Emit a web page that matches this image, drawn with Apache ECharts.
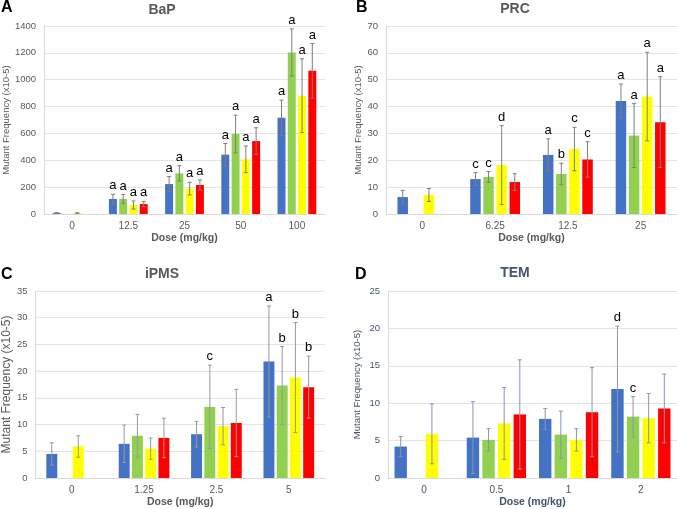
<!DOCTYPE html>
<html>
<head>
<meta charset="utf-8">
<script src="https://cdn.jsdelivr.net/npm/echarts@6/dist/echarts.min.js"></script>
<style>html,body{margin:0;padding:0;background:#fff}#c{width:677px;height:509px}</style>
</head>
<body>
<div id="c"></div>
<script>
// ---- Data ----
const catsA = ['0', '12.5', '25', '50', '100'];
const blueA = [8, 112, 223, 442, 717];
const blueErrA = [2, 35, 56, 83, 131];
const greenA = [null, 112, 303, 596, 1203];
const greenErrA = [null, 33, 57, 140, 175];
const yellowA = [7, 67, 189, 407, 881];
const yellowErrA = [2, 30, 47, 99, 275];
const redA = [null, 74, 216, 543, 1067];
const redErrA = [null, 20, 38, 99, 203];
const blueLblA = ['', 'a', 'a', 'a', 'a'];
const greenLblA = ['', 'a', 'a', 'a', 'a'];
const yellowLblA = ['', 'a', 'a', 'a', 'a'];
const redLblA = ['', 'a', 'a', 'a', 'a'];

const catsB = ['0', '6.25', '12.5', '25'];
const blueB = [6.3, 13.0, 22.0, 42.1];
const blueErrB = [2.5, 2.4, 6.0, 6.3];
const greenB = [null, 13.8, 14.9, 29.2];
const greenErrB = [null, 2.0, 4.0, 11.9];
const yellowB = [7.1, 18.2, 24.2, 43.7];
const yellowErrB = [2.4, 14.7, 8.1, 16.5];
const redB = [null, 11.9, 20.3, 34.2];
const redErrB = [null, 3.1, 6.6, 16.9];
const blueLblB = ['', 'c', 'a', 'a'];
const greenLblB = ['', 'c', 'b', 'a'];
const yellowLblB = ['', 'd', 'c', 'a'];
const redLblB = ['', '', 'c', 'a'];

const catsC = ['0', '1.25', '2.5', '5'];
const blueC = [4.5, 6.4, 8.2, 21.8];
const blueErrC = [2.1, 3.5, 2.4, 10.4];
const greenC = [null, 7.9, 13.3, 17.3];
const greenErrC = [null, 4.0, 7.8, 7.3];
const yellowC = [5.9, 5.5, 9.7, 18.8];
const yellowErrC = [2.0, 2.0, 3.5, 10.3];
const redC = [null, 7.5, 10.3, 17.0];
const redErrC = [null, 3.7, 6.3, 5.8];
const blueLblC = ['', '', '', 'a'];
const greenLblC = ['', '', 'c', 'b'];
const yellowLblC = ['', '', '', 'b'];
const redLblC = ['', '', '', 'b'];

const catsD = ['0', '0.5', '1', '2'];
const blueD = [4.2, 5.4, 7.9, 11.9];
const blueErrD = [1.35, 4.8, 1.4, 8.4];
const greenD = [null, 5.1, 5.8, 8.2];
const greenErrD = [null, 1.5, 3.15, 2.7];
const yellowD = [5.9, 7.3, 5.1, 8.0];
const yellowErrD = [4.0, 4.8, 1.5, 3.3];
const redD = [null, 8.5, 8.8, 9.3];
const redErrD = [null, 7.3, 5.95, 4.6];
const blueLblD = ['', '', '', 'd'];
const greenLblD = ['', '', '', 'c'];
const yellowLblD = ['', '', '', ''];
const redLblD = ['', '', '', ''];

const yTicksA = {max: 1400, interval: 200};
const yTicksB = {max: 70, interval: 10};
const yTicksC = {max: 35, interval: 5};
const yTicksD = {max: 25, interval: 5};

// ---- Styling / layout ----
const COLORS = ['#4472C4', '#92D050', '#FFFF00', '#FF0000'];
const FONT = 'Arial, "Liberation Sans", sans-serif';

const panels = [
  {letter: 'A', title: 'BaP', cats: catsA, ticks: yTicksA,
   vals: [blueA, greenA, yellowA, redA], errs: [blueErrA, greenErrA, yellowErrA, redErrA],
   lbls: [blueLblA, greenLblA, yellowLblA, redLblA],
   grid: {left: 43, top: 26, width: 282, height: 188}, cg: 0.31, bg: 0.29,
   txt: '#595959', err: '#7f7f7f', nameSize: 9.5, nameGap: 29, titleX: 162, titleY: 10, letterX: 1, letterY: 0},
  {letter: 'B', title: 'PRC', cats: catsB, ticks: yTicksB,
   vals: [blueB, greenB, yellowB, redB], errs: [blueErrB, greenErrB, yellowErrB, redErrB],
   lbls: [blueLblB, greenLblB, yellowLblB, redLblB],
   grid: {left: 386, top: 26, width: 291, height: 188}, cg: 0.315, bg: 0.25,
   txt: '#595959', err: '#7f7f7f', nameSize: 9.5, nameGap: 23, titleX: 515, titleY: 9, letterX: 356, letterY: 0},
  {letter: 'C', title: 'iPMS', cats: catsC, ticks: yTicksC,
   vals: [blueC, greenC, yellowC, redC], errs: [blueErrC, greenErrC, yellowErrC, redErrC],
   lbls: [blueLblC, greenLblC, yellowLblC, redLblC],
   grid: {left: 33, top: 291, width: 292, height: 189}, cg: 0.30, bg: 0.21,
   txt: '#595959', err: '#999999', nameSize: 12, nameGap: 21, titleX: 162, titleY: 274, letterX: 1, letterY: 267},
  {letter: 'D', title: 'TEM', cats: catsD, ticks: yTicksD,
   vals: [blueD, greenD, yellowD, redD], errs: [blueErrD, greenErrD, yellowErrD, redErrD],
   lbls: [blueLblD, greenLblD, yellowLblD, redLblD],
   grid: {left: 388, top: 291, width: 289, height: 187}, cg: 0.18, bg: 0.26,
   txt: '#44546A', err: '#8497B0', nameSize: 9.5, nameGap: 26, titleX: 515, titleY: 273, letterX: 355, letterY: 267}
];

const grids = [], xAxes = [], yAxes = [], series = [], graphics = [];

panels.forEach((p, gi) => {
  grids.push(p.grid);
  xAxes.push({
    type: 'category', gridIndex: gi, data: p.cats,
    name: 'Dose (mg/kg)', nameLocation: 'middle', nameGap: 19,
    nameTextStyle: {fontFamily: FONT, fontWeight: 'bold', fontSize: 10.5, color: p.txt},
    axisLine: {show: true, lineStyle: {color: '#d9d9d9', width: 1}},
    axisTick: {show: false},
    axisLabel: {fontFamily: FONT, fontSize: 10, color: p.txt, margin: 7}
  });
  yAxes.push({
    type: 'value', gridIndex: gi, min: 0, max: p.ticks.max, interval: p.ticks.interval,
    name: 'Mutant Frequency (x10-5)', nameLocation: 'middle', nameRotate: 90, nameGap: p.nameGap,
    nameTextStyle: {fontFamily: FONT, fontSize: p.nameSize, color: p.txt},
    axisLine: {show: true, lineStyle: {color: '#d9d9d9', width: 1}},
    axisTick: {show: false},
    splitLine: {show: true, lineStyle: {color: '#e4e4e4', width: 1}},
    axisLabel: {fontFamily: FONT, fontSize: 9.5, color: p.txt, margin: 8, formatter: v => String(v)}
  });
  const n = 4;
  for (let i = 0; i < n; i++) {
    series.push({
      type: 'bar', xAxisIndex: gi, yAxisIndex: gi,
      data: p.vals[i].map(v => v == null ? '-' : v),
      itemStyle: {color: COLORS[i]},
      barCategoryGap: (p.cg * 100) + '%', barGap: (p.bg * 100) + '%',
      silent: true, animation: false
    });
  }
  for (let i = 0; i < n; i++) {
    const data = p.vals[i].map((v, k) => [k, v == null ? NaN : v, p.errs[i][k] == null ? NaN : p.errs[i][k], p.lbls[i][k]]);
    series.push({
      type: 'custom', xAxisIndex: gi, yAxisIndex: gi, z: 5, animation: false, silent: true,
      data: data,
      encode: {x: 0, y: 1},
      renderItem: (params, api) => {
        const idx = params.dataIndex;
        const d = data[idx];
        if (isNaN(d[1])) return null;
        const band = api.size([1, 0])[0];
        const groupW = band * (1 - p.cg);
        const w = groupW / (n + (n - 1) * p.bg);
        const off = -groupW / 2 + w / 2 + i * w * (1 + p.bg);
        const top = api.coord([d[0], d[1] + d[2]]);
        const bot = api.coord([d[0], Math.max(0, d[1] - d[2])]);
        const x = top[0] + off;
        const cap = 2;
        const ls = {stroke: p.err, lineWidth: 1};
        const children = [
          {type: 'line', shape: {x1: x, y1: top[1], x2: x, y2: bot[1]}, style: ls},
          {type: 'line', shape: {x1: x - cap, y1: top[1], x2: x + cap, y2: top[1]}, style: ls},
          {type: 'line', shape: {x1: x - cap, y1: bot[1], x2: x + cap, y2: bot[1]}, style: ls}
        ];
        if (d[3]) {
          children.push({type: 'text', style: {text: d[3], x: x, y: top[1] - 2, textAlign: 'center', textVerticalAlign: 'bottom',
            fill: '#000', font: '13px ' + FONT}});
        }
        return {type: 'group', children};
      }
    });
  }
  graphics.push({type: 'text', left: p.letterX, top: p.letterY,
    style: {text: p.letter, fill: '#000', font: 'bold 16px ' + FONT}});
  graphics.push({type: 'text', x: p.titleX, y: p.titleY,
    style: {text: p.title, fill: p.txt, font: 'bold 14px ' + FONT, textAlign: 'center', textVerticalAlign: 'middle'}});
});

const chart = echarts.init(document.getElementById('c'), null, {renderer: 'canvas'});
chart.setOption({
  animation: false,
  grid: grids, xAxis: xAxes, yAxis: yAxes, series: series, graphic: graphics
});
</script>
</body>
</html>
